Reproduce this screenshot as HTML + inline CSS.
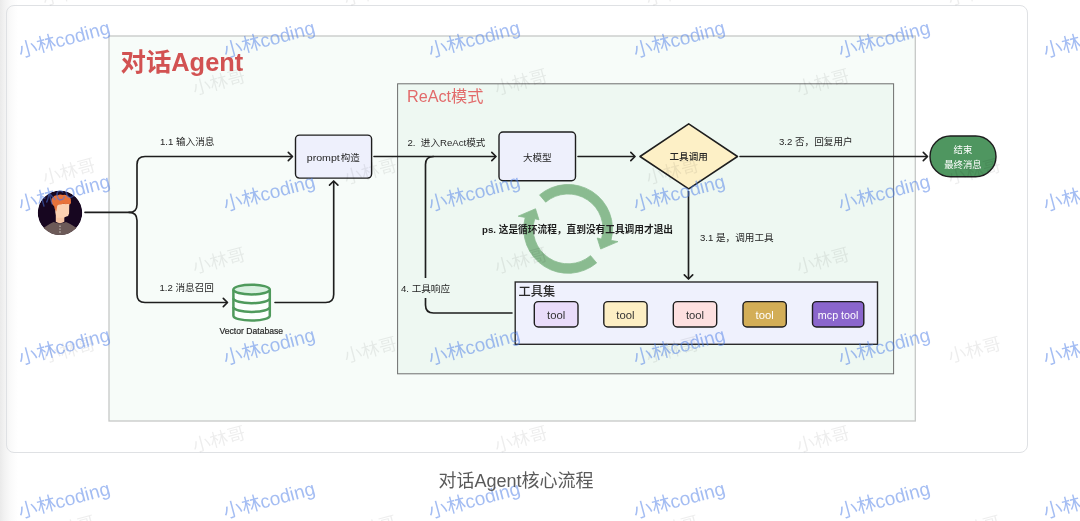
<!DOCTYPE html>
<html lang="zh-CN">
<head>
<meta charset="utf-8">
<title>对话Agent核心流程</title>
<style>
*{margin:0;padding:0;box-sizing:border-box}
html,body{width:1080px;height:521px;overflow:hidden;background:#fff}
body{position:relative;font-family:"Liberation Sans", "Noto Sans CJK SC", sans-serif;}
.edge{position:absolute;left:0;top:0;width:18px;height:521px;background:linear-gradient(90deg,#eaeaea 0,#f3f3f3 28%,#fafafa 60%,#fff 100%)}
.card{position:absolute;left:6px;top:5px;width:1022.3px;height:447.6px;border:1px solid #dfe1e4;border-radius:8px;background:transparent}
figcaption{position:absolute;left:316px;top:469px;width:400px;text-align:center;font-size:18px;line-height:24px;color:#5a5a5a;white-space:nowrap}
svg{position:absolute;left:0;top:0;will-change:transform}
svg text{font-family:"Liberation Sans", "Noto Sans CJK SC", sans-serif}
.lbl{font-size:9.6px;fill:#262626}
.wm1{font-size:19px;fill:#4a7be8;fill-opacity:.5}
.wm2{font-size:18px;fill:#000;fill-opacity:.07}
</style>
</head>
<body>
<div class="edge"></div>
<figure>
<div class="card"></div>
<svg width="1080" height="521" viewBox="0 0 1080 521">
<defs>
<clipPath id="avc"><circle cx="60" cy="212.8" r="22.3"/></clipPath>
</defs>
<g id="diagram">
<rect x="109" y="36" width="806.3" height="385" fill="#f7fcf9" stroke="#c6c8c7" stroke-width="1.3"/>
<text x="120.5" y="71" font-size="25.4" font-weight="bold" fill="#d25252">对话Agent</text>
<rect x="397.6" y="83.8" width="496" height="290" fill="#eef8f2" stroke="#6e6e6e" stroke-width="1"/>
<text x="407" y="102.2" font-size="16.2" fill="#e26a6a">ReAct模式</text>
<path d="M85 212.4 H129 Q137 212.4 137 204.4 V164.5 Q137 156.5 145 156.5 H292" fill="none" stroke="#1e1e1e" stroke-width="1.65" stroke-linecap="round" stroke-linejoin="round"/>
<path d="M129 212.4 Q137 212.4 137 220.4 V294.5 Q137 302.5 145 302.5 H227" fill="none" stroke="#1e1e1e" stroke-width="1.65" stroke-linecap="round" stroke-linejoin="round"/>
<path d="M288.3 152.3 L292.5 156.5 L288.3 160.7" fill="none" stroke="#1e1e1e" stroke-width="1.65" stroke-linecap="round" stroke-linejoin="round"/>
<path d="M223.3 298.3 L227.5 302.5 L223.3 306.7" fill="none" stroke="#1e1e1e" stroke-width="1.65" stroke-linecap="round" stroke-linejoin="round"/>
<path d="M275 302.5 H325.7 Q333.7 302.5 333.7 294.5 V181.5" fill="none" stroke="#1e1e1e" stroke-width="1.65" stroke-linecap="round" stroke-linejoin="round"/>
<path d="M329.5 185.2 L333.7 181 L337.9 185.2" fill="none" stroke="#1e1e1e" stroke-width="1.65" stroke-linecap="round" stroke-linejoin="round"/>
<rect x="295.5" y="135.1" width="76.1" height="43" rx="4" fill="#eef0fc" stroke="#1e1e1e" stroke-width="1.4"/>
<text class="lbl" y="160.6" font-size="9.6"><tspan x="306.8" textLength="33" lengthAdjust="spacingAndGlyphs">prompt</tspan><tspan x="340.8" font-size="9.5">构造</tspan></text>
<path d="M374 156.5 H495.5" fill="none" stroke="#1e1e1e" stroke-width="1.65" stroke-linecap="round" stroke-linejoin="round"/>
<path d="M491.8 152.3 L496 156.5 L491.8 160.7" fill="none" stroke="#1e1e1e" stroke-width="1.65" stroke-linecap="round" stroke-linejoin="round"/>
<path d="M512 313 H433.5 Q425.5 313 425.5 305 V164.5 Q425.5 156.5 433.5 156.5" fill="none" stroke="#1e1e1e" stroke-width="1.65" stroke-linecap="round" stroke-linejoin="round"/>
<rect x="499" y="132" width="76.5" height="48.7" rx="4" fill="#eef0fc" stroke="#1e1e1e" stroke-width="1.4"/>
<text class="lbl" x="537.3" y="160.8" text-anchor="middle" font-size="10">大模型</text>
<path d="M578 156.5 H634.5" fill="none" stroke="#1e1e1e" stroke-width="1.65" stroke-linecap="round" stroke-linejoin="round"/>
<path d="M630.8 152.3 L635 156.5 L630.8 160.7" fill="none" stroke="#1e1e1e" stroke-width="1.65" stroke-linecap="round" stroke-linejoin="round"/>
<path d="M640 156.5 L688.7 123.8 L737.5 156.5 L688.7 188.8 Z" fill="#fdf0c6" stroke="#1e1e1e" stroke-width="1.55" stroke-linejoin="round"/>
<text class="lbl" x="688.7" y="160.2" text-anchor="middle" font-size="9.6" font-weight="500">工具调用</text>
<path d="M740 156.5 H927" fill="none" stroke="#1e1e1e" stroke-width="1.65" stroke-linecap="round" stroke-linejoin="round"/>
<path d="M923.3 152.3 L927.5 156.5 L923.3 160.7" fill="none" stroke="#1e1e1e" stroke-width="1.65" stroke-linecap="round" stroke-linejoin="round"/>
<rect x="930" y="136" width="66" height="40.8" rx="20.4" fill="#4f9660" stroke="#1e1e1e" stroke-width="1.4"/>
<text x="963" y="153.4" text-anchor="middle" font-size="9.4" fill="#fff">结束</text>
<text x="963" y="167.6" text-anchor="middle" font-size="9.4" fill="#fff">最终消息</text>
<path d="M688.5 191.5 V278.5" fill="none" stroke="#1e1e1e" stroke-width="1.65" stroke-linecap="round" stroke-linejoin="round"/>
<path d="M684.3 274.8 L688.5 279 L692.7 274.8" fill="none" stroke="#1e1e1e" stroke-width="1.65" stroke-linecap="round" stroke-linejoin="round"/>
<path d="M539.56 194.89 A44.4 44.4 0 0 1 610.99 240.39 L618.00 241.62 L600.69 249.03 L597.22 237.97 L601.48 239.10 A34.9 34.9 0 0 0 545.67 202.17 Z" fill="#8abb90" stroke="#8abb90" stroke-width=".8" stroke-linejoin="round"/>
<path d="M596.64 262.91 A44.4 44.4 0 0 1 525.21 217.41 L518.20 216.18 L535.51 208.77 L538.98 219.83 L534.72 218.70 A34.9 34.9 0 0 0 590.53 255.63 Z" fill="#8abb90" stroke="#8abb90" stroke-width=".8" stroke-linejoin="round"/>
<text x="482" y="232.9" font-size="9.7" font-weight="bold" fill="#1e1e1e">ps. 这是循环流程，直到没有工具调用才退出</text>
<rect x="515.2" y="282" width="362.3" height="62.3" fill="#eff1fd" stroke="#2a2a2a" stroke-width="1.4"/>
<text x="518.6" y="296.2" font-size="12.2" font-weight="500" fill="#2a2a2a">工具集</text>
<rect x="534.3" y="301.6" width="43.7" height="25.4" rx="4" fill="#e9dcfa" stroke="#1e1e1e" stroke-width="1.4"/>
<text x="547.05" y="318.5" font-size="10.4" fill="#333" textLength="18.2" lengthAdjust="spacingAndGlyphs">tool</text>
<rect x="603.8" y="301.6" width="43.3" height="25.4" rx="4" fill="#fdefc4" stroke="#1e1e1e" stroke-width="1.4"/>
<text x="616.35" y="318.5" font-size="10.4" fill="#333" textLength="18.2" lengthAdjust="spacingAndGlyphs">tool</text>
<rect x="673.3" y="301.6" width="43.4" height="25.4" rx="4" fill="#fde0e0" stroke="#1e1e1e" stroke-width="1.4"/>
<text x="685.90" y="318.5" font-size="10.4" fill="#333" textLength="18.2" lengthAdjust="spacingAndGlyphs">tool</text>
<rect x="743" y="301.6" width="43.3" height="25.4" rx="4" fill="#d3ae57" stroke="#1e1e1e" stroke-width="1.4"/>
<text x="755.55" y="318.5" font-size="10.4" fill="#fff" textLength="18.2" lengthAdjust="spacingAndGlyphs">tool</text>
<rect x="812.5" y="301.6" width="51.3" height="25.4" rx="4" fill="#8a66cc" stroke="#1e1e1e" stroke-width="1.4"/>
<text x="817.85" y="318.5" font-size="10.4" fill="#fff" textLength="40.6" lengthAdjust="spacingAndGlyphs">mcp tool</text>
<text class="lbl" x="160" y="145.1">1.1 输入消息</text>
<text class="lbl" x="159.5" y="291.1">1.2 消息召回</text>
<text class="lbl" x="407.5" y="145.5" font-size="9.9" xml:space="preserve">2.  进入ReAct模式</text>
<text class="lbl" x="779" y="145.4">3.2 否，回复用户</text>
<text class="lbl" x="700" y="240.5">3.1 是，调用工具</text>
<rect x="399.5" y="278" width="52" height="20" fill="#eef8f2"/>
<text class="lbl" x="401" y="291.8">4. 工具响应</text>
<g fill="none" stroke="#4f9a5c" stroke-width="2.5" stroke-linejoin="round">
<path d="M233.400 289.600 V315.700 A18.200 4.900 0 0 0 269.800 315.700 V289.600" fill="#fcfffd"/>
<ellipse cx="251.600" cy="289.600" rx="18.200" ry="4.900" fill="#d9f0e0"/>
<path d="M233.400 298.300 A18.200 4.900 0 0 0 269.800 298.300"/>
<path d="M233.400 307 A18.200 4.900 0 0 0 269.800 307"/>
</g>
<text x="251.3" y="333.8" text-anchor="middle" font-size="8.6" fill="#2a2a2a" stroke="#2a2a2a" stroke-width=".2">Vector Database</text>
<g clip-path="url(#avc)">
<circle cx="60" cy="212.8" r="22.3" fill="#170620"/>
<path d="M42 229.500 Q46 225.500 53.6 222 Q60 224.800 66 222 Q74 225.500 78.500 229.500 L78.500 237 L42 237 Z" fill="#6c5a58"/>
<path d="M55.800 212 L64.300 212 L64.300 221.800 Q60 224.600 55.800 221.800 Z" fill="#f6c5a4"/>
<path d="M55 204 L69.300 203.600 L69.100 213.200 Q68.800 216 66.400 216.600 L63.600 217.700 L56.500 217.700 L55.300 212 Z" fill="#fbd1b2"/>
<path d="M51.300 201.600 Q51 198.400 53.200 197 Q54.600 194.800 57.400 195.400 Q60 193.600 63 195 Q66.400 194.200 68 196.400 Q71.200 197.400 70.900 200.600 Q71.600 203 69.800 204.800 Q68.200 203.200 66 204.200 Q63.500 203 61 204.600 Q58.600 204.200 57.200 205.800 L56.300 211.600 Q54.400 209.600 54.200 206.400 Q51.800 204.800 51.300 201.600 Z" fill="#e8723a"/>
<path d="M57.600 198.600 Q59.500 201.200 62.400 199.400" fill="none" stroke="#8a5aa8" stroke-width=".7" stroke-linecap="round"/>
<circle cx="60" cy="226.200" r=".65" fill="#e6e2dc"/><circle cx="60" cy="229.100" r=".65" fill="#e6e2dc"/><circle cx="60" cy="232" r=".65" fill="#e6e2dc"/>
</g>
</g>
<g id="wm-gray">
<text class="wm2" transform="translate(70.5 -1.2) rotate(-15)" text-anchor="middle">小林哥</text>
<text class="wm2" transform="translate(372 -1.2) rotate(-15)" text-anchor="middle">小林哥</text>
<text class="wm2" transform="translate(674 -1.2) rotate(-15)" text-anchor="middle">小林哥</text>
<text class="wm2" transform="translate(976 -1.2) rotate(-15)" text-anchor="middle">小林哥</text>
<text class="wm2" transform="translate(220.5 88.3) rotate(-15)" text-anchor="middle">小林哥</text>
<text class="wm2" transform="translate(522.5 88.3) rotate(-15)" text-anchor="middle">小林哥</text>
<text class="wm2" transform="translate(824.5 88.3) rotate(-15)" text-anchor="middle">小林哥</text>
<text class="wm2" transform="translate(1126.5 88.3) rotate(-15)" text-anchor="middle">小林哥</text>
<text class="wm2" transform="translate(70.5 177.6) rotate(-15)" text-anchor="middle">小林哥</text>
<text class="wm2" transform="translate(372 177.6) rotate(-15)" text-anchor="middle">小林哥</text>
<text class="wm2" transform="translate(674 177.6) rotate(-15)" text-anchor="middle">小林哥</text>
<text class="wm2" transform="translate(976 177.6) rotate(-15)" text-anchor="middle">小林哥</text>
<text class="wm2" transform="translate(220.5 266.8) rotate(-15)" text-anchor="middle">小林哥</text>
<text class="wm2" transform="translate(522.5 266.8) rotate(-15)" text-anchor="middle">小林哥</text>
<text class="wm2" transform="translate(824.5 266.8) rotate(-15)" text-anchor="middle">小林哥</text>
<text class="wm2" transform="translate(1126.5 266.8) rotate(-15)" text-anchor="middle">小林哥</text>
<text class="wm2" transform="translate(70.5 356.1) rotate(-15)" text-anchor="middle">小林哥</text>
<text class="wm2" transform="translate(372 356.1) rotate(-15)" text-anchor="middle">小林哥</text>
<text class="wm2" transform="translate(674 356.1) rotate(-15)" text-anchor="middle">小林哥</text>
<text class="wm2" transform="translate(976 356.1) rotate(-15)" text-anchor="middle">小林哥</text>
<text class="wm2" transform="translate(220.5 445.4) rotate(-15)" text-anchor="middle">小林哥</text>
<text class="wm2" transform="translate(522.5 445.4) rotate(-15)" text-anchor="middle">小林哥</text>
<text class="wm2" transform="translate(824.5 445.4) rotate(-15)" text-anchor="middle">小林哥</text>
<text class="wm2" transform="translate(1126.5 445.4) rotate(-15)" text-anchor="middle">小林哥</text>
<text class="wm2" transform="translate(70.5 534.8) rotate(-15)" text-anchor="middle">小林哥</text>
<text class="wm2" transform="translate(372 534.8) rotate(-15)" text-anchor="middle">小林哥</text>
<text class="wm2" transform="translate(674 534.8) rotate(-15)" text-anchor="middle">小林哥</text>
<text class="wm2" transform="translate(976 534.8) rotate(-15)" text-anchor="middle">小林哥</text>
</g>
<g id="wm-blue">
<text class="wm1" transform="translate(20.3 57.7) rotate(-15)">小林coding</text>
<text class="wm1" transform="translate(225.3 57.7) rotate(-15)">小林coding</text>
<text class="wm1" transform="translate(430.3 57.7) rotate(-15)">小林coding</text>
<text class="wm1" transform="translate(635.3 57.7) rotate(-15)">小林coding</text>
<text class="wm1" transform="translate(840.3 57.7) rotate(-15)">小林coding</text>
<text class="wm1" transform="translate(1045.3 57.7) rotate(-15)">小林coding</text>
<text class="wm1" transform="translate(20.3 211.3) rotate(-15)">小林coding</text>
<text class="wm1" transform="translate(225.3 211.3) rotate(-15)">小林coding</text>
<text class="wm1" transform="translate(430.3 211.3) rotate(-15)">小林coding</text>
<text class="wm1" transform="translate(635.3 211.3) rotate(-15)">小林coding</text>
<text class="wm1" transform="translate(840.3 211.3) rotate(-15)">小林coding</text>
<text class="wm1" transform="translate(1045.3 211.3) rotate(-15)">小林coding</text>
<text class="wm1" transform="translate(20.3 364.9) rotate(-15)">小林coding</text>
<text class="wm1" transform="translate(225.3 364.9) rotate(-15)">小林coding</text>
<text class="wm1" transform="translate(430.3 364.9) rotate(-15)">小林coding</text>
<text class="wm1" transform="translate(635.3 364.9) rotate(-15)">小林coding</text>
<text class="wm1" transform="translate(840.3 364.9) rotate(-15)">小林coding</text>
<text class="wm1" transform="translate(1045.3 364.9) rotate(-15)">小林coding</text>
<text class="wm1" transform="translate(20.3 518.5) rotate(-15)">小林coding</text>
<text class="wm1" transform="translate(225.3 518.5) rotate(-15)">小林coding</text>
<text class="wm1" transform="translate(430.3 518.5) rotate(-15)">小林coding</text>
<text class="wm1" transform="translate(635.3 518.5) rotate(-15)">小林coding</text>
<text class="wm1" transform="translate(840.3 518.5) rotate(-15)">小林coding</text>
<text class="wm1" transform="translate(1045.3 518.5) rotate(-15)">小林coding</text>
</g>
</svg>
<figcaption>对话Agent核心流程</figcaption>
</figure>
</body>
</html>
